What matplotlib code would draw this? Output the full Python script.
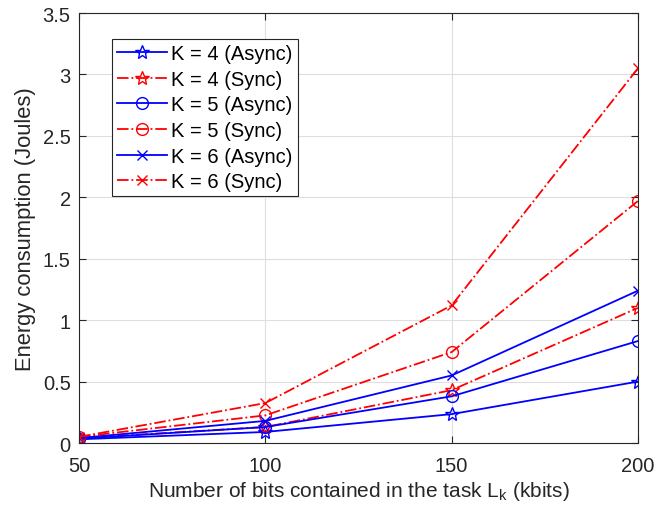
import matplotlib.pyplot as plt

plt.rcParams['font.family'] = ['Liberation Sans', 'DejaVu Sans']

# task size (kbits)
bits = [50, 100, 150, 200]

# energy consumption (Joules)
k4_async = [0.03, 0.09, 0.235, 0.50]
k4_sync = [0.04, 0.13, 0.43, 1.10]
k5_async = [0.035, 0.13, 0.38, 0.83]
k5_sync = [0.05, 0.225, 0.74, 1.97]
k6_async = [0.04, 0.18, 0.55, 1.24]
k6_sync = [0.05, 0.325, 1.12, 3.05]

fig = plt.figure(figsize=(6.66, 5.10), dpi=100)
ax = fig.add_axes([0.1186, 0.1294, 0.8393, 0.8431])

ax.plot(bits, k4_async, 'b-', marker='*', ms=10, mfc='none', lw=1.3, label='K = 4 (Async)')
ax.plot(bits, k4_sync, 'r-.', marker='*', ms=10, mfc='none', lw=1.3, label='K = 4 (Sync)')
ax.plot(bits, k5_async, 'b-', marker='o', ms=8.5, mfc='none', lw=1.3, label='K = 5 (Async)')
ax.plot(bits, k5_sync, 'r-.', marker='o', ms=8.5, mfc='none', lw=1.3, label='K = 5 (Sync)')
ax.plot(bits, k6_async, 'b-', marker='x', ms=7, lw=1.3, label='K = 6 (Async)')
ax.plot(bits, k6_sync, 'r-.', marker='x', ms=7, lw=1.3, label='K = 6 (Sync)')

ax.set_xlim(50, 200)
ax.set_ylim(0, 3.5)
ax.set_xticks(bits)
ax.set_yticks([0, 0.5, 1, 1.5, 2, 2.5, 3, 3.5])
ax.set_yticklabels(['0', '0.5', '1', '1.5', '2', '2.5', '3', '3.5'])
ax.grid(True, color='#dedede', lw=0.8)
ax.set_axisbelow(True)
ax.tick_params(direction='in', top=True, right=True, labelsize=14.5, colors='#262626', length=5)
ax.tick_params(axis='x', pad=9)
ax.tick_params(axis='y', pad=6)
for s in ax.spines.values():
    s.set_color('#262626')
    s.set_linewidth(0.8)

ax.set_xlabel('Number of bits contained in the task L$_\\mathregular{k}$ (kbits)', fontsize=15,
              color='#262626', labelpad=3)
ax.set_ylabel('Energy consumption (Joules)', fontsize=15.8, color='#262626', labelpad=5)

leg = ax.legend(loc='upper left', bbox_to_anchor=(0.059, 0.9395), fontsize=14.5, fancybox=False,
                edgecolor='#262626', framealpha=1, handlelength=2.5, handletextpad=0.2,
                labelspacing=0.33, borderpad=0.25, borderaxespad=0)
leg.get_frame().set_linewidth(0.8)

fig.savefig('out.png', dpi=100)
